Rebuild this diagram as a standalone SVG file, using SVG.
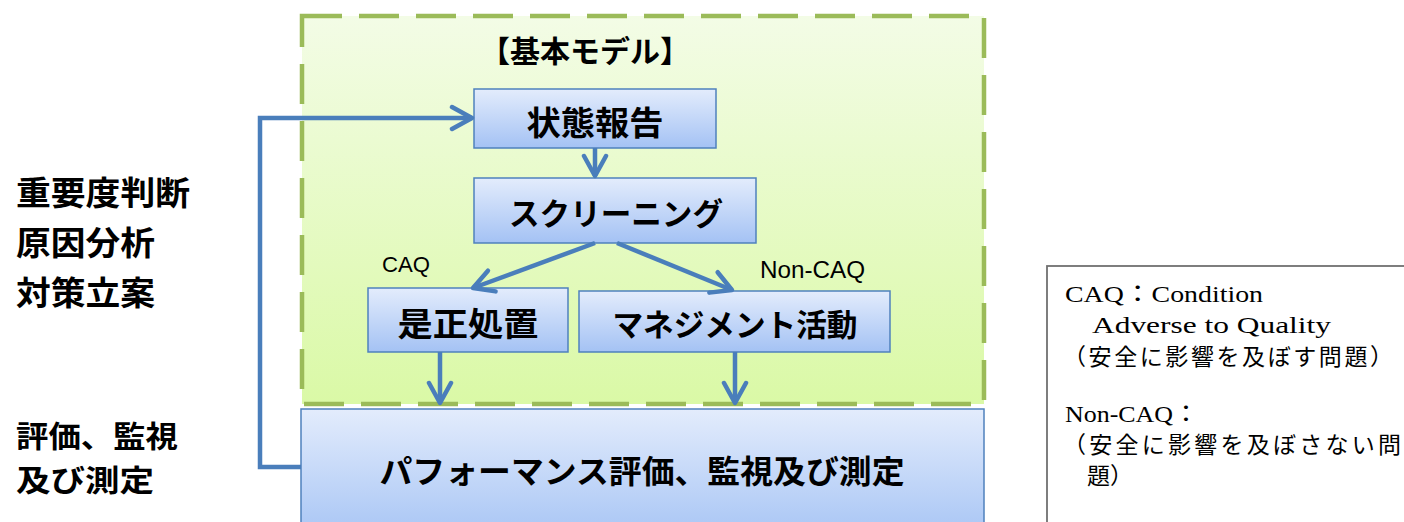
<svg xmlns="http://www.w3.org/2000/svg" width="1404" height="522" viewBox="0 0 1404 522">
<defs>
<linearGradient id="gGreen" x1="0" y1="0" x2="0" y2="1">
<stop offset="0" stop-color="#F3FCE6"/>
<stop offset="1" stop-color="#DAF9A6"/>
</linearGradient>
<linearGradient id="gBlue" x1="0" y1="0" x2="0" y2="1">
<stop offset="0" stop-color="#E3ECFC"/>
<stop offset="1" stop-color="#A4C2F4"/>
</linearGradient>
<linearGradient id="gBlueBig" x1="0" y1="0" x2="0" y2="1">
<stop offset="0" stop-color="#E3ECFC"/>
<stop offset="1" stop-color="#A9C6F5"/>
</linearGradient>
<marker id="arr" markerUnits="userSpaceOnUse" viewBox="-24 -14 28 28" refX="0" refY="0" markerWidth="28" markerHeight="28" orient="auto">
<path d="M-20,-11 L0,0 L-20,11" fill="none" stroke="#4A7EBB" stroke-width="4.5" stroke-linecap="round" stroke-linejoin="round"/>
</marker>
<style>
.node{stroke:#4F81BD;stroke-width:1.5;fill:url(#gBlue);}
.nt{font-family:"Noto Sans CJK JP",sans-serif;font-weight:bold;fill:#000;text-anchor:middle;}
.side{font-family:"Noto Sans CJK JP",sans-serif;font-weight:bold;fill:#000;}
.lbl{font-family:"Liberation Sans",Arial,sans-serif;fill:#000;}
.leg{font-family:"Liberation Serif","Noto Sans CJK JP",serif;font-size:24px;fill:#000;}
.legj{font-family:"Noto Sans CJK JP",sans-serif;font-size:23px;fill:#000;}
.conn{fill:none;stroke:#4A7EBB;stroke-width:4.5;marker-end:url(#arr);}
</style>
</defs>
<rect width="1404" height="522" fill="#FFFFFF"/>

<g id="basic-model">
<rect x="302" y="16" width="682" height="388" fill="url(#gGreen)" stroke="#9BBB59" stroke-width="4.5" stroke-dasharray="40 17"/>
<text class="nt" x="585" y="62" font-size="30">【基本モデル】</text>
</g>

<g id="side-labels">
<text class="side" x="16" y="205" font-size="33" textLength="174" lengthAdjust="spacingAndGlyphs">重要度判断</text>
<text class="side" x="16" y="255" font-size="33" textLength="139" lengthAdjust="spacingAndGlyphs">原因分析</text>
<text class="side" x="16" y="305" font-size="33" textLength="139" lengthAdjust="spacingAndGlyphs">対策立案</text>
<text class="side" x="16" y="447" font-size="30" textLength="162" lengthAdjust="spacingAndGlyphs">評価、監視</text>
<text class="side" x="16" y="491" font-size="30" textLength="138" lengthAdjust="spacingAndGlyphs">及び測定</text>
</g>

<g id="node-status-report">
<rect class="node" x="474" y="89" width="242" height="59"/>
<text class="nt" x="595" y="135" font-size="33" textLength="137" lengthAdjust="spacingAndGlyphs">状態報告</text>
</g>

<g id="node-screening">
<rect class="node" x="474" y="178" width="282" height="65"/>
<text class="nt" x="616" y="225" font-size="31" textLength="214" lengthAdjust="spacingAndGlyphs">スクリーニング</text>
</g>

<g id="node-corrective">
<rect class="node" x="368" y="288" width="200" height="64"/>
<text class="nt" x="468" y="336" font-size="33" textLength="141" lengthAdjust="spacingAndGlyphs">是正処置</text>
</g>

<g id="node-management">
<rect class="node" x="579" y="291" width="311" height="61"/>
<text class="nt" x="735" y="336" font-size="31" textLength="245" lengthAdjust="spacingAndGlyphs">マネジメント活動</text>
</g>

<g id="node-performance">
<rect x="301" y="409" width="683" height="125" stroke="#4F81BD" stroke-width="1.5" fill="url(#gBlueBig)"/>
<text class="nt" x="642" y="483" font-size="32" textLength="525" lengthAdjust="spacingAndGlyphs">パフォーマンス評価、監視及び測定</text>
</g>

<g id="connectors">
<path class="conn" d="M301,467 H260 V118 H472"/>
<path class="conn" d="M595,148 V176"/>
<path class="conn" d="M595,243 L473,288"/>
<path class="conn" d="M617,243 L732,290"/>
<path class="conn" d="M440,352 V403"/>
<path class="conn" d="M735,352 V403"/>
<text class="lbl" x="382" y="272" font-size="22" textLength="48" lengthAdjust="spacingAndGlyphs">CAQ</text>
<text class="lbl" x="760" y="278" font-size="24" textLength="105" lengthAdjust="spacingAndGlyphs">Non-CAQ</text>
</g>

<g id="legend">
<rect x="1047" y="266" width="420" height="300" fill="#FFFFFF" stroke="#707070" stroke-width="1.8"/>
<text class="leg" x="1065" y="302" textLength="198" lengthAdjust="spacingAndGlyphs">CAQ：Condition</text>
<text class="leg" x="1092" y="333" textLength="239" lengthAdjust="spacingAndGlyphs">Adverse to Quality</text>
<text class="legj" x="1063" y="365" textLength="330" lengthAdjust="spacing">（安全に影響を及ぼす問題）</text>
<text class="leg" x="1065" y="422" textLength="134" lengthAdjust="spacingAndGlyphs">Non-CAQ：</text>
<text class="legj" x="1063" y="453" textLength="338" lengthAdjust="spacing">（安全に影響を及ぼさない問</text>
<text class="legj" x="1087" y="484">題）</text>
</g>
</svg>
